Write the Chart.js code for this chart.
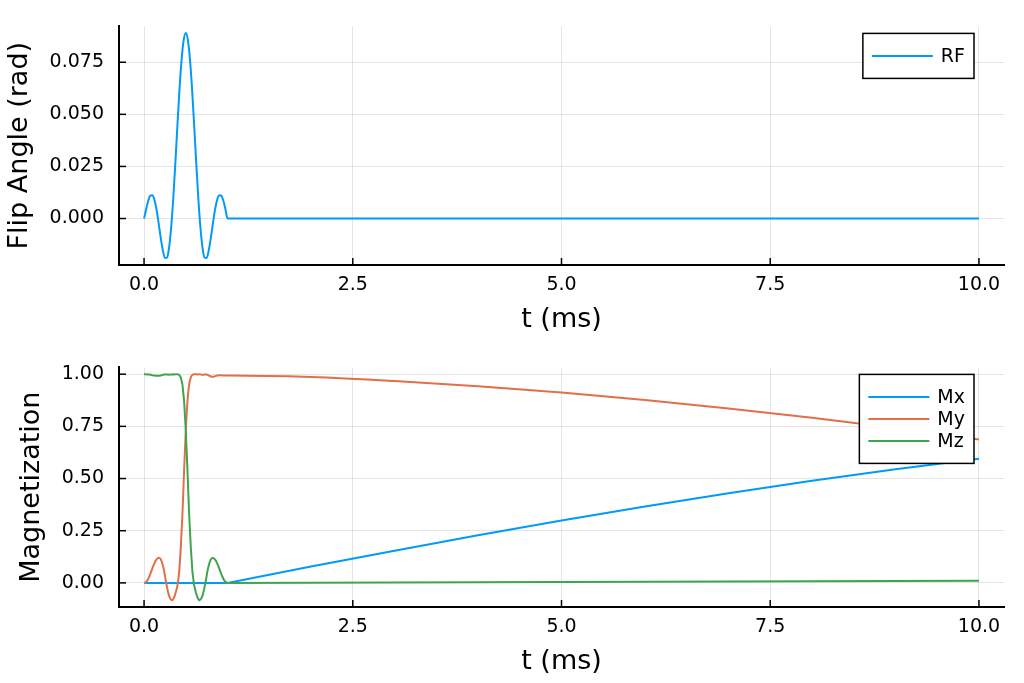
<!DOCTYPE html>
<html><head><meta charset="utf-8">
<script src="https://cdn.jsdelivr.net/npm/chart.js@4.4.1/dist/chart.umd.min.js"></script>
<style>
html,body{margin:0;padding:0;background:#fff;}
#wrap{position:relative;width:1024px;height:683px;background:#fff;}
#c1{position:absolute;left:0;top:0;}
#c2{position:absolute;left:0;top:341px;}
</style></head><body>
<div id="wrap"><canvas id="c1" width="1024" height="341"></canvas><canvas id="c2" width="1024" height="342"></canvas></div>
<script>
// ---- data ----
const tRF = [0,0.025,0.05,0.075,0.1,0.125,0.15,0.175,0.2,0.225,0.25,0.275,0.3,0.325,0.35,0.375,0.4,0.425,0.45,0.475,0.5,
  0.525,0.55,0.575,0.6,0.625,0.65,0.675,0.7,0.725,0.75,0.775,0.8,0.825,0.85,0.875,0.9,0.925,0.95,0.975,1.0,10];
const rfValues = [0,0.0045,0.0085,0.011,0.0112,0.0089,0.0042,-0.0023,-0.0093,-0.0153,-0.0189,-0.0187,-0.0139,-0.0042,0.0097,0.0267,0.0449,0.0622,0.0764,0.0857,0.089,
  0.0857,0.0764,0.0622,0.0449,0.0267,0.0097,-0.0042,-0.0139,-0.0187,-0.0189,-0.0153,-0.0093,-0.0023,0.0042,0.0089,0.0112,0.011,0.0085,0.0045,0,0];

const tM = [0,0.02,0.04,0.06,0.08,0.1,0.12,0.14,0.16,0.18,0.2,0.22,0.24,0.26,0.28,0.3,0.32,0.34,0.36,0.38,0.4,
  0.42,0.44,0.46,0.48,0.5,0.52,0.54,0.56,0.58,0.6,0.62,0.64,0.66,0.68,0.7,0.72,0.74,0.76,0.78,0.8,
  0.82,0.84,0.86,0.88,0.9,0.92,0.94,0.96,0.98,1.0,2,3,4,5,6,7,8,9,10];
const mxValues = [0,0,0,0,0,0,0,0,0,0,0,0,0,0,0,0,0,0,0,0,0,
  0,0,0,0,0,0,0,0,0,0,0,0,0,0,0,0,0,0,0,0,
  0,0,0,0,0,0,0,0,0,0,0.0782,0.1543,0.2279,0.2986,0.3658,0.4296,0.4893,0.5444,0.595];
const myValues = [0,0.003,0.012,0.028,0.048,0.07,0.09,0.107,0.117,0.12,0.113,0.092,0.058,0.012,-0.03,-0.062,-0.079,-0.083,-0.07,-0.045,-0.012,
  0.05,0.17,0.33,0.54,0.73,0.87,0.95,0.985,0.997,1.0,1.0,0.999,1.0,0.998,0.997,0.998,0.999,0.997,0.993,0.989,
  0.988,0.989,0.992,0.994,0.995,0.995,0.994,0.994,0.994,0.994,0.9866,0.9673,0.9422,0.9117,0.8762,0.8358,0.7909,0.7416,0.6874];
const mzValues = [1.0,1.0,0.999,0.998,0.997,0.995,0.994,0.993,0.993,0.993,0.994,0.996,0.998,0.999,0.998,0.997,0.998,1.0,0.999,1.0,1.0,
  0.997,0.985,0.95,0.87,0.73,0.54,0.33,0.17,0.05,-0.012,-0.045,-0.07,-0.083,-0.079,-0.062,-0.03,0.012,0.058,0.092,0.113,
  0.12,0.117,0.107,0.09,0.07,0.048,0.028,0.012,0.003,0,0.0011,0.0022,0.0033,0.0044,0.0055,0.0066,0.0077,0.0088,0.0099];

const xTicks = [0,2.5,5,7.5,10];
const xTickLabels = ['0.0','2.5','5.0','7.5','10.0'];
const rfTicks = [0,0.025,0.05,0.075];
const rfTickLabels = ['0.000','0.025','0.050','0.075'];
const mTicks = [0,0.25,0.5,0.75,1];
const mTickLabels = ['0.00','0.25','0.50','0.75','1.00'];

// ---- styling ----
const FONT = "'DejaVu Sans', sans-serif";
const BLUE = '#009AFA', ORANGE = '#E36F47', GREEN = '#3EA44E';

const innerTicks = {
  id: 'innerTicks',
  afterDraw(chart) {
    const ctx = chart.ctx, a = chart.chartArea;
    const xs = chart.scales.x, ys = chart.scales.y;
    ctx.save();
    ctx.strokeStyle = '#000'; ctx.lineWidth = 1.5;
    xs.ticks.forEach(t => {
      const p = xs.getPixelForValue(t.value);
      ctx.beginPath(); ctx.moveTo(p, a.bottom); ctx.lineTo(p, a.bottom - 7); ctx.stroke();
    });
    ys.ticks.forEach(t => {
      const p = ys.getPixelForValue(t.value);
      ctx.beginPath(); ctx.moveTo(a.left, p); ctx.lineTo(a.left + 7, p); ctx.stroke();
    });
    ctx.restore();
  }
};

const boxLegend = {
  id: 'boxLegend',
  afterDraw(chart) {
    const ctx = chart.ctx, a = chart.chartArea;
    const ds = chart.data.datasets;
    ctx.save();
    ctx.font = '19px ' + FONT;
    const maxW = Math.max(...ds.map(d => ctx.measureText(d.label).width));
    const w = 78 + maxW + 9;
    const h = ds.length * 22 + 23;
    const right = a.right - 30, left = right - w, top = a.top + 7;
    ctx.fillStyle = '#fff';
    ctx.fillRect(left, top, w, h);
    ctx.strokeStyle = '#000'; ctx.lineWidth = 1.5;
    ctx.strokeRect(left, top, w, h);
    ds.forEach((d, i) => {
      const y = top + 22.5 + 22 * i;
      ctx.strokeStyle = d.borderColor; ctx.lineWidth = 2;
      ctx.beginPath(); ctx.moveTo(left + 9, y); ctx.lineTo(left + 70, y); ctx.stroke();
      ctx.fillStyle = '#000'; ctx.textBaseline = 'middle'; ctx.textAlign = 'left';
      ctx.fillText(d.label, left + 78, y + 1);
    });
    ctx.restore();
  }
};

function makeOptions(cfg) {
  return {
    responsive: false, animation: false, events: [],
    layout: { padding: { left: 0, right: 20, top: cfg.top, bottom: 0 } },
    plugins: { legend: { display: false }, tooltip: { enabled: false } },
    scales: {
      x: {
        type: 'linear', min: -0.3, max: 10.3,
        afterBuildTicks: s => { s.ticks = xTicks.map(v => ({ value: v })); },
        afterFit: s => { s.height = 76; },
        ticks: { padding: 9, color: '#000', font: { family: FONT, size: 19 }, maxRotation: 0, autoSkip: false,
                 callback: (v, i) => xTickLabels[i] },
        grid: { color: 'rgba(0,0,0,0.1)', lineWidth: 1, drawTicks: false },
        border: { display: true, color: '#000', width: 2 },
        title: { display: true, text: 't (ms)', color: '#000', font: { family: FONT, size: 27 }, padding: { top: 0, bottom: 5 } }
      },
      y: {
        type: 'linear', min: cfg.ymin, max: cfg.ymax,
        afterBuildTicks: s => { s.ticks = cfg.yTicks.map(v => ({ value: v })); },
        afterFit: s => { s.width = 119; },
        ticks: { padding: 15, color: '#000', font: { family: FONT, size: 19 }, autoSkip: false,
                 callback: (v, i) => cfg.yLabels[i] },
        grid: { color: 'rgba(0,0,0,0.1)', lineWidth: 1, drawTicks: false },
        border: { display: true, color: '#000', width: 2 },
        title: { display: true, text: cfg.ytitle, color: '#000', font: { family: FONT, size: 27 }, padding: { top: cfg.ytpad, bottom: 0 } }
      }
    }
  };
}

function series(ts, vals) { return ts.map((t, i) => ({ x: t, y: vals[i] })); }
const smoothStyle = { borderWidth: 2, pointRadius: 0, cubicInterpolationMode: 'monotone', fill: false };
const straightStyle = { borderWidth: 2, pointRadius: 0, tension: 0, fill: false };

new Chart(document.getElementById('c1'), {
  type: 'line',
  data: { datasets: [ Object.assign({ label: 'RF', data: series(tRF, rfValues), borderColor: BLUE }, smoothStyle) ] },
  options: makeOptions({ top: 20, ymin: -0.0223, ymax: 0.0922, yTicks: rfTicks, yLabels: rfTickLabels, ytitle: 'Flip Angle (rad)', ytpad: 4 }),
  plugins: [innerTicks, boxLegend]
});

new Chart(document.getElementById('c2'), {
  type: 'line',
  data: { datasets: [
    Object.assign({ label: 'Mx', data: series(tM, mxValues), borderColor: BLUE, order: 3 }, straightStyle),
    Object.assign({ label: 'My', data: series(tM, myValues), borderColor: ORANGE, order: 2 }, smoothStyle),
    Object.assign({ label: 'Mz', data: series(tM, mzValues), borderColor: GREEN, order: 1 }, straightStyle)
  ] },
  options: makeOptions({ top: 21, ymin: -0.1155, ymax: 1.0325, yTicks: mTicks, yLabels: mTickLabels, ytitle: 'Magnetization', ytpad: 16 }),
  plugins: [innerTicks, boxLegend]
});
</script>
</body></html>
